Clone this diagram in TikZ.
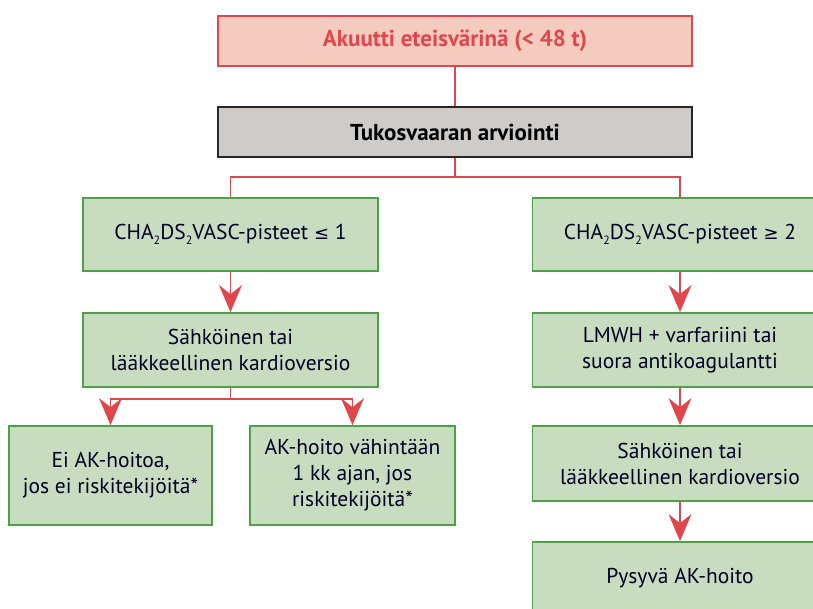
\documentclass[tikz,border=0pt]{standalone}
\usepackage{fontspec}
\setmainfont{PT Sans}
\newfontfamily\symfont{DejaVu Sans}
\usetikzlibrary{arrows.meta}
\definecolor{gfill}{HTML}{C8DCBF}
\definecolor{gline}{HTML}{4EA146}
\definecolor{rline}{HTML}{E0474C}
\definecolor{pfill}{HTML}{F4CBBE}
\definecolor{gray1}{HTML}{CFCBC8}
\newcommand{\lowtwo}{\raisebox{-0.45ex}{\fontsize{12}{12}\selectfont 2}}
\tikzset{
  box/.style={draw=gline, fill=gfill, line width=1.8pt, inner sep=0pt, align=center, font=\fontsize{21.5}{26}\selectfont, text=black!85!blue},
  head/.style={line width=1.8pt, inner sep=0pt, minimum width=474pt, minimum height=50pt, font=\bfseries\fontsize{23}{26}\selectfont},
  conn/.style={draw=rline, line width=1.5pt},
  arr/.style={conn, -{Stealth[length=27pt,width=23pt,inset=9pt]}},
}
\begin{document}
\begin{tikzpicture}[x=1pt,y=-1pt]
\useasboundingbox (0,0) rectangle (813,608);
\clip (0,0) rectangle (813,608);
\node[head, draw=rline, fill=pfill, text=rline] (top) at (455,41) {Akuutti eteisvärinä (< 48 t)};
\node[head, draw=black!85, fill=gray1] (gray) at (455,132) {Tukosvaaran arviointi};
\node[box, minimum width=295pt, minimum height=73pt] (L1) at (230.5,234.5) {CHA\lowtwo DS\lowtwo VASC-pisteet {\symfont\fontsize{18}{20}\selectfont ≤} 1};
\node[box, minimum width=295pt, minimum height=73pt] (R1) at (680,234.5) {CHA\lowtwo DS\lowtwo VASC-pisteet {\symfont\fontsize{18}{20}\selectfont ≥} 2};
\node[box, minimum width=295pt, minimum height=74pt] (L2) at (230.5,350) {Sähköinen tai\\lääkkeellinen kardioversio};
\node[box, minimum width=295pt, minimum height=74pt] (R2) at (680,350) {LMWH + varfariini tai\\suora antikoagulantti};
\node[box, minimum width=203pt, minimum height=99pt] (BL) at (110.5,475.5) {Ei AK-hoitoa,\\jos ei riskitekijöitä*};
\node[box, minimum width=205pt, minimum height=99pt] (BM) at (352.5,475.5) {AK-hoito vähintään\\1 kk ajan, jos\\riskitekijöitä*};
\node[box, minimum width=295pt, minimum height=75pt] (R3) at (680,463.5) {Sähköinen tai\\lääkkeellinen kardioversio};
\node[box, minimum width=295pt, minimum height=72pt] (R4) at (680,578) {Pysyvä AK-hoito};
\coordinate (s1) at (455,177);
\coordinate (s2) at (230.5,399);
\draw[conn] (top) -- (gray);
\draw[conn] (gray.south) -- (s1);
\draw[conn] (L1.north) |- (s1) -| (R1.north);
\draw[arr] (L1) -- (L2);
\draw[arr] (R1) -- (R2);
\draw[conn] (L2.south) -- (s2);
\draw[arr] (s2) -| (BL.north);
\draw[arr] (s2) -| (BM.north);
\draw[arr] (R2) -- (R3);
\draw[arr] (R3) -- (R4);
\end{tikzpicture}
\end{document}
